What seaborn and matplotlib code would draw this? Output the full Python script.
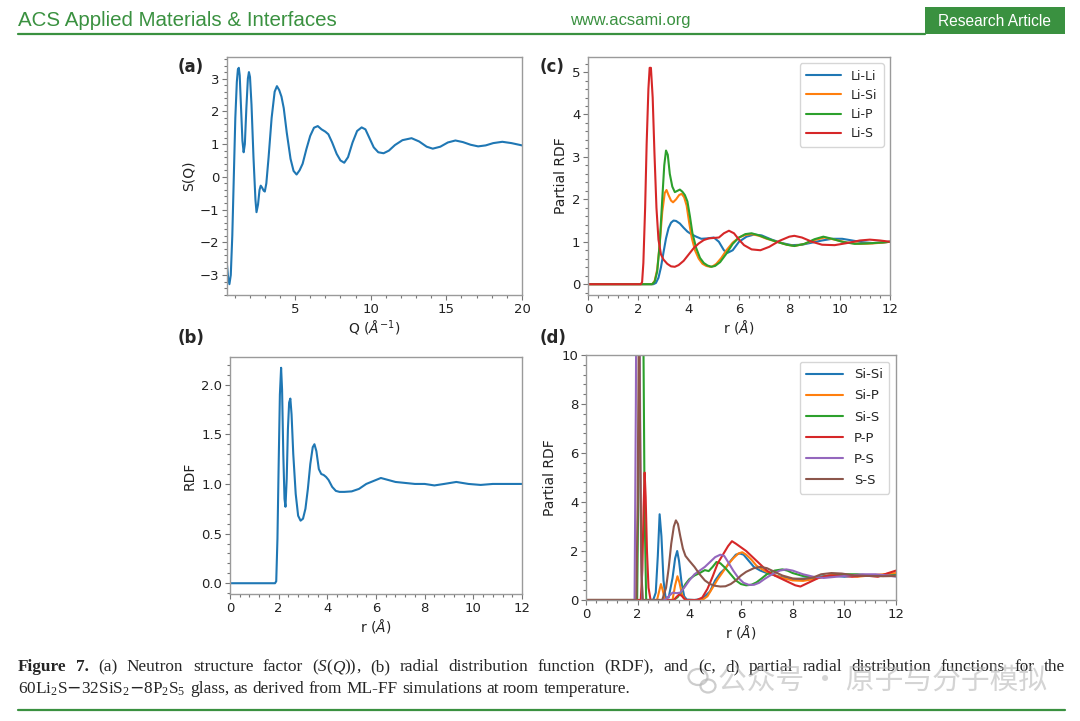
import matplotlib
matplotlib.use("Agg")
import matplotlib.pyplot as plt
from matplotlib.ticker import AutoMinorLocator
from matplotlib.patches import Rectangle, Ellipse
from matplotlib.lines import Line2D
import pandas as pd
import seaborn as sns

# ---- (a) neutron structure factor S(Q) ----
q_vals = [0.5, 0.58, 0.66, 0.75, 0.85, 0.95, 1.05, 1.15, 1.22, 1.28, 1.34, 1.42, 1.52, 1.6, 1.68,
          1.78, 1.88, 1.95, 2.02, 2.12, 2.25, 2.38, 2.45, 2.55, 2.65, 2.73, 2.82, 2.92, 3.0, 3.1,
          3.25, 3.45, 3.65, 3.8, 3.95, 4.1, 4.25, 4.45, 4.7, 4.9, 5.1, 5.3, 5.5, 5.75, 6.0, 6.25,
          6.5, 6.75, 7.0, 7.2, 7.45, 7.75, 8.0, 8.25, 8.5, 8.8, 9.1, 9.4, 9.65, 9.9, 10.2, 10.5,
          10.85, 11.2, 11.6, 12.1, 12.7, 13.2, 13.7, 14.1, 14.6, 15.1, 15.6, 16.1, 16.6, 17.1,
          17.6, 18.1, 18.7, 19.3, 20.0]
sq_vals = [-2.7, -3.1, -3.28, -3.0, -1.8, 0.0, 1.8, 2.9, 3.28, 3.33, 3.1, 2.2, 1.1, 0.75, 1.0,
           2.1, 3.0, 3.2, 3.05, 2.2, 0.6, -0.7, -1.08, -0.85, -0.4, -0.27, -0.33, -0.42, -0.45, -0.2,
           0.6, 1.8, 2.6, 2.77, 2.65, 2.45, 2.1, 1.35, 0.55, 0.18, 0.07, 0.2, 0.4, 0.85, 1.25, 1.5,
           1.55, 1.45, 1.38, 1.3, 1.05, 0.7, 0.5, 0.43, 0.6, 1.05, 1.4, 1.51, 1.45, 1.2, 0.9, 0.75,
           0.72, 0.8, 0.97, 1.12, 1.18, 1.08, 0.92, 0.86, 0.92, 1.05, 1.11, 1.06, 0.98, 0.93,
           0.96, 1.03, 1.07, 1.03, 0.96]

# ---- (b) total RDF ----
r_tot = [0, 1.85, 1.9, 1.95, 2.0, 2.05, 2.1, 2.14, 2.19, 2.24, 2.28, 2.33, 2.38, 2.43, 2.48, 2.53,
         2.6, 2.7, 2.8, 2.9, 3.0, 3.1, 3.2, 3.3, 3.4, 3.47, 3.55, 3.65, 3.75, 3.85, 3.95, 4.05,
         4.2, 4.35, 4.5, 4.7, 5.0, 5.3, 5.6, 5.9, 6.2, 6.5, 6.8, 7.2, 7.6, 8.0, 8.4, 8.8, 9.3,
         9.8, 10.3, 10.8, 11.4, 12.0]
g_tot = [0, 0, 0.02, 0.45, 1.2, 1.9, 2.17, 1.95, 1.3, 0.85, 0.77, 1.05, 1.55, 1.82, 1.86, 1.7,
         1.3, 0.9, 0.68, 0.63, 0.65, 0.75, 0.95, 1.2, 1.37, 1.4, 1.33, 1.15, 1.1, 1.09, 1.07, 1.04,
         0.97, 0.93, 0.92, 0.92, 0.925, 0.95, 1.0, 1.03, 1.06, 1.04, 1.02, 1.01, 1.0, 1.0, 0.985,
         1.0, 1.02, 1.0, 0.99, 1.0, 1.0, 1.0]

# ---- (c) Li partial RDFs ----
r_lili = [0, 2.6, 2.7, 2.8, 2.9, 3.0, 3.1, 3.2, 3.3, 3.4, 3.5, 3.65, 3.8, 3.95, 4.1, 4.3, 4.5,
          4.75, 5.0, 5.2, 5.4, 5.55, 5.75, 6.0, 6.3, 6.6, 6.9, 7.3, 7.7, 8.1, 8.5, 8.9, 9.3, 9.7,
          10.1, 10.5, 10.9, 11.3, 11.7, 12.0]
g_lili = [0, 0, 0.03, 0.15, 0.4, 0.75, 1.08, 1.32, 1.45, 1.5, 1.49, 1.43, 1.33, 1.24, 1.18, 1.12,
          1.07, 1.08, 1.1, 1.0, 0.8, 0.74, 0.8, 1.0, 1.12, 1.17, 1.15, 1.05, 0.97, 0.92, 0.93,
          0.98, 1.03, 1.07, 1.07, 1.03, 0.99, 0.97, 0.98, 1.0]
r_lisi = [0, 2.55, 2.65, 2.75, 2.85, 2.95, 3.05, 3.12, 3.2, 3.3, 3.38, 3.5, 3.62, 3.72, 3.82,
          3.92, 4.02, 4.12, 4.25, 4.4, 4.55, 4.7, 4.85, 4.95, 5.1, 5.3, 5.5, 5.75, 6.0, 6.25, 6.5,
          6.8, 7.1, 7.5, 7.9, 8.2, 8.6, 9.0, 9.4, 9.8, 10.3, 10.8, 11.3, 11.7, 12.0]
g_lisi = [0, 0, 0.08, 0.35, 0.95, 1.7, 2.15, 2.22, 2.1, 1.97, 1.93, 2.0, 2.1, 2.13, 2.05, 1.85,
          1.45, 1.1, 0.8, 0.6, 0.48, 0.43, 0.41, 0.42, 0.48, 0.62, 0.8, 0.98, 1.1, 1.16, 1.18,
          1.14, 1.07, 1.0, 0.93, 0.9, 0.95, 1.04, 1.1, 1.05, 0.98, 0.95, 0.96, 0.98, 1.0]
r_lip = [0, 2.55, 2.65, 2.75, 2.85, 2.95, 3.03, 3.1, 3.17, 3.25, 3.35, 3.45, 3.55, 3.65, 3.75,
         3.85, 3.95, 4.05, 4.15, 4.3, 4.45, 4.6, 4.75, 4.9, 5.05, 5.25, 5.5, 5.75, 6.0, 6.25, 6.5,
         6.8, 7.1, 7.5, 7.9, 8.2, 8.6, 9.0, 9.35, 9.7, 10.1, 10.6, 11.1, 11.6, 12.0]
g_lip = [0, 0, 0.06, 0.3, 0.95, 2.0, 2.8, 3.15, 3.05, 2.6, 2.3, 2.17, 2.2, 2.23, 2.18, 2.1, 1.95,
         1.6, 1.2, 0.85, 0.62, 0.5, 0.44, 0.41, 0.43, 0.52, 0.72, 0.95, 1.1, 1.18, 1.2, 1.15,
         1.08, 1.0, 0.93, 0.9, 0.95, 1.06, 1.12, 1.07, 1.0, 0.95, 0.96, 0.98, 1.0]
r_lis = [0, 2.1, 2.15, 2.2, 2.27, 2.33, 2.4, 2.45, 2.5, 2.57, 2.64, 2.72, 2.8, 2.9, 3.0, 3.15,
         3.3, 3.45, 3.6, 3.8, 4.0, 4.2, 4.4, 4.6, 4.8, 5.0, 5.2, 5.4, 5.6, 5.8, 6.0, 6.2, 6.5,
         6.85, 7.2, 7.6, 8.0, 8.2, 8.5, 8.9, 9.3, 9.8, 10.3, 10.8, 11.2, 11.6, 12.0]
g_lis = [0, 0, 0.05, 0.5, 1.8, 3.3, 4.6, 5.1, 5.1, 4.4, 3.1, 1.8, 1.05, 0.7, 0.58, 0.48, 0.42,
         0.41, 0.45, 0.55, 0.7, 0.85, 0.96, 1.04, 1.08, 1.09, 1.1, 1.2, 1.26, 1.2, 1.05, 0.92,
         0.82, 0.8, 0.88, 1.02, 1.12, 1.14, 1.1, 1.0, 0.93, 0.92, 0.97, 1.03, 1.05, 1.03, 1.0]

# ---- (d) Si / P / S partial RDFs ----
r_sisi = [0, 2.6, 2.7, 2.78, 2.85, 2.92, 3.0, 3.08, 3.2, 3.35, 3.45, 3.53, 3.6, 3.7, 3.8, 3.9,
          4.2, 4.5, 4.8, 5.0, 5.2, 5.4, 5.6, 5.8, 5.95, 6.1, 6.3, 6.5, 6.75, 7.0, 7.5, 8.0, 8.5,
          9.0, 9.5, 10.0, 10.5, 11.0, 11.5, 12.0]
g_sisi = [0, 0, 0.3, 1.8, 3.5, 2.6, 0.8, 0.1, 0.1, 0.9, 1.7, 2.0, 1.6, 0.7, 0.15, 0.02, 0.0,
          0.05, 0.35, 0.8, 1.1, 1.3, 1.6, 1.85, 1.9, 1.85, 1.6, 1.35, 1.2, 1.1, 0.95, 0.85, 0.88,
          0.95, 1.0, 0.95, 1.0, 1.0, 1.02, 1.05]
r_sip = [0, 2.75, 2.83, 2.9, 2.97, 3.05, 3.35, 3.45, 3.54, 3.62, 3.72, 3.85, 4.5, 4.7, 4.9, 5.1,
         5.3, 5.5, 5.7, 5.9, 6.05, 6.2, 6.4, 6.6, 6.9, 7.2, 7.6, 8.0, 8.4, 8.8, 9.2, 9.6, 10.0,
         10.5, 11.0, 11.5, 12.0]
g_sip = [0, 0, 0.35, 0.65, 0.4, 0.0, 0.0, 0.6, 0.97, 0.7, 0.2, 0.0, 0.0, 0.15, 0.5, 0.85, 1.15,
         1.45, 1.7, 1.9, 1.95, 1.85, 1.65, 1.4, 1.2, 1.05, 0.9, 0.8, 0.78, 0.85, 0.95, 1.05, 1.0,
         0.95, 1.0, 1.05, 1.1]
r_sis = [0, 1.98, 2.04, 2.1, 2.16, 2.22, 2.27, 2.33, 3.4, 3.55, 3.7, 3.85, 4.0, 4.2, 4.4, 4.6,
         4.75, 4.9, 5.05, 5.2, 5.4, 5.6, 5.8, 6.0, 6.2, 6.4, 6.6, 6.8, 7.0, 7.3, 7.6, 7.8, 8.0,
         8.4, 8.8, 9.2, 9.6, 10.0, 10.5, 11.0, 11.5, 12.0]
g_sis = [0, 0, 6.0, 16.0, 18.0, 11.0, 3.5, 0.0, 0.0, 0.12, 0.35, 0.65, 0.85, 1.0, 1.1, 1.22,
         1.18, 1.35, 1.55, 1.5, 1.3, 1.05, 0.8, 0.65, 0.6, 0.62, 0.72, 0.88, 1.05, 1.2, 1.25,
         1.2, 1.1, 0.98, 0.92, 0.95, 1.0, 1.05, 1.05, 1.0, 0.98, 1.0]
r_pp = [0, 2.12, 2.18, 2.23, 2.27, 2.31, 2.36, 2.42, 2.5, 3.4, 3.5, 3.6, 3.7, 3.8, 3.9, 4.3, 4.5,
        4.7, 4.9, 5.1, 5.3, 5.5, 5.65, 5.8, 6.0, 6.2, 6.4, 6.6, 6.8, 7.0, 7.3, 7.6, 7.9, 8.1,
        8.3, 8.6, 9.0, 9.4, 9.8, 10.3, 10.8, 11.3, 11.7, 12.0]
g_pp = [0, 0, 1.2, 3.8, 5.2, 4.2, 2.0, 0.5, 0.0, 0.0, 0.12, 0.22, 0.18, 0.05, 0.0, 0.0, 0.1,
        0.45, 0.95, 1.5, 1.85, 2.2, 2.4, 2.3, 2.15, 2.0, 1.8, 1.6, 1.4, 1.2, 1.0, 0.85, 0.7, 0.6,
        0.55, 0.7, 0.9, 1.0, 1.0, 0.95, 1.0, 0.95, 1.1, 1.2]
r_ps = [0, 1.88, 1.93, 1.98, 2.03, 2.08, 2.13, 2.18, 3.05, 3.2, 3.35, 3.5, 3.65, 3.8, 4.0, 4.2,
        4.4, 4.6, 4.8, 5.0, 5.2, 5.35, 5.5, 5.7, 5.9, 6.1, 6.3, 6.5, 6.7, 6.9, 7.2, 7.5, 7.75,
        8.0, 8.4, 8.8, 9.2, 9.7, 10.2, 10.7, 11.2, 11.7, 12.0]
g_ps = [0, 0, 8.0, 20.0, 21.0, 10.0, 2.0, 0.0, 0.0, 0.15, 0.3, 0.28, 0.3, 0.5, 0.8, 1.05, 1.2,
        1.35, 1.55, 1.75, 1.85, 1.8, 1.55, 1.2, 0.9, 0.7, 0.62, 0.62, 0.7, 0.85, 1.05, 1.2, 1.25,
        1.2, 1.05, 0.95, 0.9, 0.95, 1.0, 1.05, 1.05, 1.0, 0.95]
r_ss = [0, 1.95, 2.0, 2.05, 2.1, 2.15, 2.2, 2.95, 3.1, 3.2, 3.3, 3.4, 3.48, 3.56, 3.65, 3.75,
        3.85, 4.0, 4.2, 4.4, 4.6, 4.8, 5.0, 5.2, 5.4, 5.6, 5.8, 6.0, 6.2, 6.5, 6.75, 7.0, 7.3,
        7.6, 8.0, 8.4, 8.8, 9.1, 9.5, 9.9, 10.4, 11.0, 11.5, 12.0]
g_ss = [0, 0, 4.0, 12.0, 6.0, 1.0, 0.0, 0.0, 0.5, 1.3, 2.3, 3.0, 3.25, 3.1, 2.6, 2.1, 1.8, 1.6,
        1.35, 1.05, 0.8, 0.65, 0.58, 0.55, 0.56, 0.65, 0.8, 1.0, 1.15, 1.3, 1.35, 1.3, 1.15, 1.0,
        0.88, 0.85, 0.92, 1.05, 1.1, 1.08, 1.0, 0.98, 0.97, 0.98]

li_pairs = ["Li-Li", "Li-Si", "Li-P", "Li-S"]
other_pairs = ["Si-Si", "Si-P", "Si-S", "P-P", "P-S", "S-S"]

GREEN = "#3a9140"
pal = sns.color_palette("tab10")

sns.set_style("ticks")
plt.rcParams["font.family"] = ["DejaVu Sans"]
plt.rcParams["axes.unicode_minus"] = True

fig = plt.figure(figsize=(10.8, 7.21), dpi=100)
W, H = 1080, 721


def box(left, top, right, bottom):
    return [left / W, (H - bottom) / H, (right - left) / W, (bottom - top) / H]


ax_a = fig.add_axes(box(227, 57, 522, 295))
ax_c = fig.add_axes(box(588, 57, 890, 295))
ax_b = fig.add_axes(box(230, 357, 522, 594))
ax_d = fig.add_axes(box(586, 355, 896, 600))


def long_frame(names, rs, gs):
    parts = [pd.DataFrame({"r": r, "g": g, "pair": n}) for n, r, g in zip(names, rs, gs)]
    return pd.concat(parts, ignore_index=True)


df_c = long_frame(li_pairs, [r_lili, r_lisi, r_lip, r_lis], [g_lili, g_lisi, g_lip, g_lis])
df_d = long_frame(other_pairs, [r_sisi, r_sip, r_sis, r_pp, r_ps, r_ss],
                  [g_sisi, g_sip, g_sis, g_pp, g_ps, g_ss])

lw = 1.5
sns.lineplot(x=q_vals, y=sq_vals, ax=ax_a, color=pal[0], lw=lw)
sns.lineplot(x=r_tot, y=g_tot, ax=ax_b, color=pal[0], lw=lw)
sns.lineplot(data=df_c, x="r", y="g", hue="pair", hue_order=li_pairs, palette=pal[:4],
             estimator=None, lw=lw, ax=ax_c)
sns.lineplot(data=df_d, x="r", y="g", hue="pair", hue_order=other_pairs, palette=pal[:6],
             estimator=None, lw=lw, ax=ax_d)

ax_a.set_xlim(0.5, 20)
ax_a.set_xticks([5, 10, 15, 20])
ax_a.set_xlabel(r"Q ($\AA^{-1}$)")
ax_a.set_ylabel("S(Q)")

for ax in (ax_b, ax_c, ax_d):
    ax.set_xlim(0, 12)
    ax.set_xlabel(r"r ($\AA$)")
ax_b.set_ylabel("RDF")
ax_c.set_ylabel("Partial RDF")
ax_d.set_ylabel("Partial RDF")
ax_d.set_ylim(0, 10)

for ax in (ax_a, ax_b, ax_c, ax_d):
    for sp in ax.spines.values():
        sp.set_color("#9a9a9a")
        sp.set_linewidth(1.0)
    ax.xaxis.set_minor_locator(AutoMinorLocator(5))
    ax.yaxis.set_minor_locator(AutoMinorLocator(5))
    ax.tick_params(which="both", direction="out", color="#777777", labelcolor="#222222",
                   labelsize=9.5, width=0.8)
    ax.tick_params(which="major", length=3.5, pad=2)
    ax.tick_params(which="minor", length=2)
    ax.xaxis.label.set_size(10)
    ax.yaxis.label.set_size(10)
    ax.xaxis.label.set_color("#222222")
    ax.yaxis.label.set_color("#222222")
    ax.xaxis.labelpad = 2
    ax.yaxis.labelpad = 3

for ax, fs, sp in ((ax_c, 9, 0.5), (ax_d, 9.5, 0.62)):
    handles, labels = ax.get_legend_handles_labels()
    ax.legend(handles, labels, loc="upper right", fontsize=fs, handlelength=2.8,
              labelspacing=sp, borderpad=0.5, frameon=True, edgecolor="#cccccc")

for lab, x, y in [("(a)", 178, 67), ("(b)", 178, 338), ("(c)", 540, 67), ("(d)", 540, 338)]:
    fig.text(x / W, 1 - y / H, lab, fontsize=12, weight="bold", va="center", ha="left")

# ---- page header ----
renderer = fig.canvas.get_renderer()


def fit_width(t, target):
    w = t.get_window_extent(renderer).width
    t.set_fontsize(t.get_fontsize() * target / w)


t = fig.text(18 / W, 1 - 21 / H, "ACS Applied Materials & Interfaces", color=GREEN,
             fontsize=13, family=["Liberation Sans", "DejaVu Sans"], va="center")
fit_width(t, 319)
t = fig.text(630 / W, 1 - 21 / H, "www.acsami.org", color=GREEN, fontsize=10,
             family=["Liberation Sans", "DejaVu Sans"], va="center", ha="center")
fit_width(t, 120)
fig.add_artist(Rectangle((925 / W, 1 - 34 / H), 140 / W, 27 / H, transform=fig.transFigure,
                         color=GREEN, lw=0))
t = fig.text(995 / W, 1 - 21 / H, "Research Article", color="white", fontsize=10,
             family=["Liberation Sans", "DejaVu Sans"], va="center", ha="center")
fit_width(t, 114)
fig.add_artist(Line2D([18 / W, 925 / W], [1 - 34 / H, 1 - 34 / H], transform=fig.transFigure,
                      color=GREEN, lw=1.6))
fig.add_artist(Line2D([18 / W, 1065 / W], [1 - 710 / H, 1 - 710 / H], transform=fig.transFigure,
                      color=GREEN, lw=1.6))

# ---- caption (line 1 justified to the text block) ----
serif = ["Liberation Serif", "DejaVu Serif"]
cap_size = 12.4


def draw_words(x0, y, words, size, right=None):
    # words: list of word pieces [(text, style), ...]; drawn left to right
    probe1 = fig.text(0, 0, "a b", fontsize=size, family=serif)
    probe2 = fig.text(0, 0, "ab", fontsize=size, family=serif)
    space = probe1.get_window_extent(renderer).width - probe2.get_window_extent(renderer).width
    probe1.remove()
    probe2.remove()
    drawn = []
    for word in words:
        pieces = []
        for text, kw in word:
            tt = fig.text(0, 1 - y / H, text, fontsize=size, family=serif, va="center", **kw)
            pieces.append((tt, tt.get_window_extent(renderer).width))
        drawn.append(pieces)
    natural = sum(w for p in drawn for _, w in p)
    gap = space
    if right is not None and len(drawn) > 1:
        gap = (right - x0 - natural) / (len(drawn) - 1)
    x = x0
    for pieces in drawn:
        for tt, w in pieces:
            tt.set_x(x / W)
            x += w
        x += gap


def words_of(text, kw=None):
    return [[(w, kw or {})] for w in text.split(" ")]


line1 = ([[("Figure", {"weight": "bold"})], [("7.", {"weight": "bold"})]]
         + words_of("(a) Neutron structure factor")
         + [[("(", {}), ("S", {"style": "italic"}), ("(", {}), ("Q", {"style": "italic"}),
             ("))", {}), (",", {})]]
         + words_of("(b) radial distribution function (RDF), and (c, d) partial radial "
                    "distribution functions for the"))
line2 = words_of(r"60Li$\mathregular{_2}$S$-$32SiS$\mathregular{_2}$$-$8P$\mathregular{_2}$"
                 r"S$\mathregular{_5}$ glass, as derived from ML-FF simulations at room temperature.")
draw_words(18, 667, line1, cap_size, right=1065)
draw_words(18, 689, line2, cap_size)

# ---- watermark (overlaps the caption, as on the page) ----
wm_grey = "#b8b8b8"
fig.add_artist(Ellipse((698 / W, 1 - 677 / H), 19 / W, 16 / H, transform=fig.transFigure,
                       fill=False, edgecolor=wm_grey, lw=1.6, alpha=0.7))
fig.add_artist(Ellipse((708 / W, 1 - 686 / H), 15 / W, 13 / H, transform=fig.transFigure,
                       fill=False, edgecolor=wm_grey, lw=1.6, alpha=0.7))
wm = fig.text(718 / W, 1 - 681 / H, "公众号 · 原子与分子模拟", color=wm_grey, alpha=0.6,
              fontsize=17, family=["Noto Sans CJK SC", "DejaVu Sans"], va="center")
fit_width(wm, 329)

fig.savefig("out.png", dpi=100)
